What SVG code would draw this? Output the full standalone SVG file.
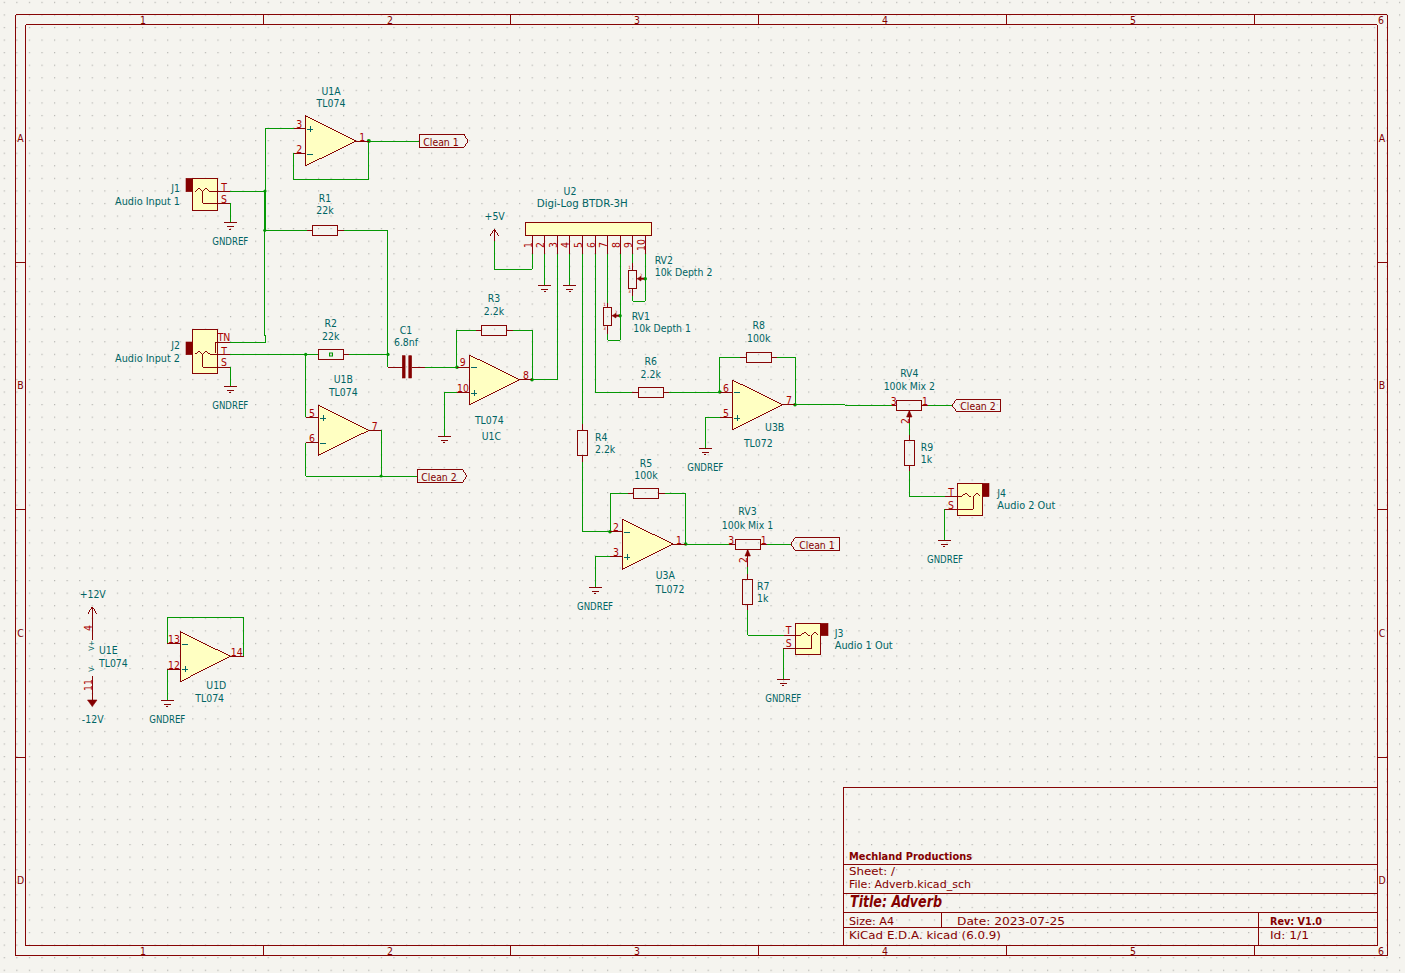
<svg xmlns="http://www.w3.org/2000/svg" width="1405" height="973" viewBox="0 0 1405 973">
<style>
text{font-family:"DejaVu Sans","Liberation Sans",sans-serif;font-size:10.4px;font-stretch:condensed;dominant-baseline:central;text-anchor:middle}
.t{fill:#006464}
.l{text-anchor:start}
.r{text-anchor:end}
.n{fill:#a90000}
.f{fill:#840000}
.b{font-weight:bold}
.tiny{font-size:4.5px}
.body,.res,.pin,.wire,.frame,.sym,.lab{fill:none;shape-rendering:crispEdges}
.body{fill:#ffffc2;stroke:#840000;stroke-width:.98}
.res{stroke:#840000;stroke-width:.98}
.pin,.lab,.frame{stroke:#840000;stroke-width:.98}
.wire{stroke:#009600;stroke-width:.98}
.sym{stroke:#006464;stroke-width:.98}
.fil{fill:#840000;stroke:#840000;stroke-width:.6}
.thk{stroke:#840000;stroke-width:2;fill:none}
.j{fill:#009600}
</style>
<defs>
<pattern id="grid" patternUnits="userSpaceOnUse" x="3.7" y="1.8" width="12.57" height="12.57"><rect width="1.2" height="1.2" fill="#b4b4b0"/></pattern>
<g id="gnd" class="pin"><path d="M-6.7 0H6.7M-3.4 4H3.4M-1 6.6H1"/></g>
<g id="plus" class="sym"><path d="M-3 0H3M0 -3V3"/></g>
<path id="minus" class="sym" d="M-3 0H3"/>
</defs>
<rect width="1405" height="973" fill="#f5f4ef"/>
<rect width="1405" height="973" fill="url(#grid)"/>

<g id="frame">
<path class="frame" d="M15.5 14.5H1387V955.5H15.5ZM25.5 24.5H1377V945.5H25.5ZM263.5 14.5V24.5M510.5 14.5V24.5M758.5 14.5V24.5M1006.5 14.5V24.5M1254.5 14.5V24.5M263.5 945.5V955.5M510.5 945.5V955.5M758.5 945.5V955.5M1006.5 945.5V955.5M1254.5 945.5V955.5M15.5 262.5H25.5M15.5 509.5H25.5M15.5 757.5H25.5M1377 262.5H1387M1377 509.5H1387M1377 757.5H1387"/>
<text class="f" x="143" y="19.5">1</text><text class="f" x="390" y="19.5">2</text><text class="f" x="637" y="19.5">3</text><text class="f" x="885" y="19.5">4</text><text class="f" x="1133" y="19.5">5</text><text class="f" x="1381" y="19.5">6</text>
<text class="f" x="143" y="950.5">1</text><text class="f" x="390" y="950.5">2</text><text class="f" x="637" y="950.5">3</text><text class="f" x="885" y="950.5">4</text><text class="f" x="1133" y="950.5">5</text><text class="f" x="1381" y="950.5">6</text>
<text class="f" x="20.5" y="138">A</text><text class="f" x="20.5" y="385">B</text><text class="f" x="20.5" y="633">C</text><text class="f" x="20.5" y="880">D</text>
<text class="f" x="1382" y="138">A</text><text class="f" x="1382" y="385">B</text><text class="f" x="1382" y="633">C</text><text class="f" x="1382" y="880">D</text>
</g>

<g id="title-block">
<path class="frame" d="M843 945.5V787H1377M843 864H1377M843 893.5H1377M843 912.5H1377M843 927.5H1377M941.5 912.5V927.5M1258.5 912.5V945.5"/>
<text class="f b l" x="849" y="856" textLength="123" lengthAdjust="spacingAndGlyphs">Mechland Productions</text>
<text class="f l" x="849" y="871" textLength="46" lengthAdjust="spacingAndGlyphs">Sheet: /</text>
<text class="f l" x="849" y="884" textLength="122" lengthAdjust="spacingAndGlyphs">File: Adverb.kicad_sch</text>
<text class="f b l" x="850" y="902" style="font-size:15px;font-style:italic" textLength="92" lengthAdjust="spacingAndGlyphs">Title: Adverb</text>
<text class="f l" x="849" y="921" textLength="45" lengthAdjust="spacingAndGlyphs">Size: A4</text>
<text class="f l" x="957" y="921" textLength="108" lengthAdjust="spacingAndGlyphs">Date: 2023-07-25</text>
<text class="f b l" x="1270" y="921" textLength="52" lengthAdjust="spacingAndGlyphs">Rev: V1.0</text>
<text class="f l" x="849" y="935" textLength="152" lengthAdjust="spacingAndGlyphs">KiCad E.D.A.  kicad (6.0.9)</text>
<text class="f l" x="1270" y="935" textLength="39" lengthAdjust="spacingAndGlyphs">Id: 1/1</text>
</g>

<g id="connectors">
<path class="wire" d="M265.7 128.3V191.3M294 128.3H265.7M230 191.3H265.7M264.7 191.3V335.5H265.7V342H230M265.2 191.3V230.3M264.7 230.3H307.3M344 230.3H387.5V367.3M230 354.3H318.3M349 354.3H388"/>
<path class="wire" d="M368.7 141H419.3M368.7 141V179.3H293.3V153.3H294"/>
<path class="wire" d="M230.3 203.3V222.7M230.3 367.3V386"/>
<path class="wire" d="M305.5 354.3V417.3H306M306 442.7H305.5V476H417.3M381.3 430.3V476"/>
<path class="wire" d="M425 367.3H457M456.3 367.3V330.3H476.3M513.3 330.3H532.3V379.7M532 379.7H557.3V254M457 392.7H444.3V436"/>
<path class="wire" d="M532.3 254V269.3H494.3V241M544.7 254V285M569.7 254V285"/>
<path class="wire" d="M582.3 254V424M582.3 462V531.3H610.3M627.7 493.3H610.3V531.3M664.7 493.3H685.3V544M685.5 544H729.3M766.7 544H790.7M595.3 556.7V587.3M610 556.7H595.3"/>
<path class="wire" d="M595.3 254V392H632.3M669.3 392H719.7V357.3H740M719.7 392H720M777 357.3H795.3V404.7M795 404.7H845V405.3H892M927.7 405.3H952M720 417.3H705.3V448.3"/>
<path class="wire" d="M607.7 254V303M620.3 254V340.3H607.7V334M632.7 254V263M632.7 296V301.3H645.3V254"/>
<path class="wire" d="M747.7 567V574.3M747.7 609.7V635.3H784M783.3 648.3V679"/>
<path class="wire" d="M909.3 423V435M909.3 470.7V496.3H945M944.3 509.3V540.3"/>
<path class="wire" d="M167.3 643.3V617.3H243.7V656.3M167.3 669V700"/>
<rect x="329.5" y="353" width="3" height="3" fill="none" stroke="#009600" stroke-width="1"/>
<g class="j"><circle cx="265" cy="191" r="1.6"/><circle cx="264.8" cy="230.3" r="1.6"/><circle cx="368.8" cy="141" r="2"/><circle cx="305.7" cy="354.4" r="1.6"/><circle cx="388" cy="354.4" r="1.6"/><circle cx="457" cy="367.2" r="1.8"/><circle cx="532" cy="379.7" r="1.8"/><circle cx="381.1" cy="476" r="1.6"/><circle cx="620" cy="315.7" r="1.8"/><circle cx="645.2" cy="278.7" r="1.8"/><circle cx="719.8" cy="392" r="1.8"/><circle cx="795" cy="404.7" r="1.8"/><circle cx="610" cy="531.7" r="1.8"/><circle cx="685.7" cy="544" r="1.8"/></g>
</g>

<g id="U1A"><path class="pin" d="M294 128.3H305.3M294 153.3H305.3M356 141H368.7"/><polygon class="body" points="305.3,115.7 305.3,166 356,141"/><use href="#plus" x="310" y="129"/><use href="#minus" x="310" y="154"/>
<text class="t" x="331" y="90.7">U1A</text><text class="t" x="331" y="103.3">TL074</text><text class="n" x="299.3" y="124">3</text><text class="n" x="299.3" y="149.3">2</text><text class="n" x="362.3" y="136.7">1</text></g>

<g id="U1B"><path class="pin" d="M306 417.3H318.3M306 442.7H318.3M369 430.3H381.3"/><polygon class="body" points="318.3,405.3 318.3,455.3 369,430.3"/><use href="#plus" x="323" y="418"/><use href="#minus" x="323" y="443"/>
<text class="t" x="343.3" y="379.3">U1B</text><text class="t" x="343.3" y="392.3">TL074</text><text class="n" x="312" y="413">5</text><text class="n" x="312" y="438.3">6</text><text class="n" x="374.7" y="425.7">7</text></g>

<g id="U1C"><path class="pin" d="M457 367.3H469.3M457 392.7H469.3M519.7 379.7H532"/><polygon class="body" points="469.3,355 469.3,405 519.7,379.7"/><use href="#minus" x="474" y="367"/><use href="#plus" x="474" y="393"/>
<text class="t" x="489.3" y="419.7">TL074</text><text class="t" x="491.3" y="436.3">U1C</text><text class="n" x="462.7" y="362.3">9</text><text class="n" x="463" y="388.3">10</text><text class="n" x="526" y="375">8</text><use href="#gnd" x="444.3" y="436"/></g>

<g id="U1D"><path class="pin" d="M167.3 643.3H180.3M167.3 669H180.3M230.3 656.3H243.7"/><polygon class="body" points="180.3,631.7 180.3,681.7 230.3,656.3"/><use href="#minus" x="185" y="644"/><use href="#plus" x="185" y="669.3"/>
<text class="t" x="216.3" y="685.3">U1D</text><text class="t" x="209.7" y="697.7">TL074</text><text class="n" x="174" y="639">13</text><text class="n" x="174" y="665">12</text><text class="n" x="236.7" y="651.7">14</text><use href="#gnd" x="167.3" y="700"/><text class="t" x="167.3" y="719" textLength="36" lengthAdjust="spacingAndGlyphs">GNDREF</text></g>

<g id="U1E"><path class="pin" d="M92.3 606.7V640M88 613.5L92.3 606.7L96.6 613.5M92.3 675.7V700"/><polygon class="fil" points="87.5,700 97,700 92.3,706.5"/>
<text class="t" x="92.7" y="594">+12V</text><text class="t" x="92.7" y="719">-12V</text><text class="n" transform="translate(88 628) rotate(-90)">4</text><text class="n" transform="translate(88 685) rotate(-90)">11</text><text class="t" style="font-size:7.5px" transform="translate(91.5 645.5) rotate(-90)">V+</text><text class="t" style="font-size:7.5px" transform="translate(91.5 668.5) rotate(-90)">V-</text>
<text class="t l" x="99" y="650">U1E</text><text class="t l" x="99" y="662.7">TL074</text></g>

<g id="U2"><path class="pin" d="M532.3 235.3V254M544.7 235.3V254M557.3 235.3V254M569.7 235.3V254M582.3 235.3V254M595.3 235.3V254M607.7 235.3V254M620.3 235.3V254M632.7 235.3V254M645.3 235.3V254"/><rect class="body" x="525" y="222.3" width="126.7" height="13"/>
<text class="t" x="570" y="191">U2</text><text class="t" x="582.3" y="203.3" textLength="91" lengthAdjust="spacingAndGlyphs">Digi-Log BTDR-3H</text>
<text class="n" transform="translate(527.7 245) rotate(-90)">1</text><text class="n" transform="translate(540 245) rotate(-90)">2</text><text class="n" transform="translate(552.7 245) rotate(-90)">3</text><text class="n" transform="translate(565 245) rotate(-90)">4</text><text class="n" transform="translate(577.7 245) rotate(-90)">5</text><text class="n" transform="translate(590.7 245) rotate(-90)">6</text><text class="n" transform="translate(603 245) rotate(-90)">7</text><text class="n" transform="translate(615.7 245) rotate(-90)">8</text><text class="n" transform="translate(628 245) rotate(-90)">9</text><text class="n" transform="translate(640.7 245) rotate(-90)">10</text>
<use href="#gnd" x="544.7" y="285"/><use href="#gnd" x="569.7" y="285"/></g>

<g id="pwr-5V"><path class="pin" d="M494.3 241V229.3M489.7 236L494.3 229.3L498.9 236"/><text class="t" x="494.7" y="216">+5V</text></g>

<g id="J1"><rect class="fil" x="186" y="178.3" width="6.3" height="13.4"/><rect class="body" x="192.3" y="178.3" width="25.4" height="32"/><path class="pin" d="M195 191.7L198.7 188.3L202.7 191.7V203.3H230M202.7 191.7L206 188.3L210 191.7H230"/>
<text class="t r" x="180" y="187.7">J1</text><text class="t r" x="180" y="200.7" textLength="65" lengthAdjust="spacingAndGlyphs">Audio Input 1</text><text class="n" x="224" y="186.7">T</text><text class="n" x="224" y="199.3">S</text><use href="#gnd" x="230.3" y="222.7"/><text class="t" x="230.3" y="241.3" textLength="36" lengthAdjust="spacingAndGlyphs">GNDREF</text></g>

<g id="J2"><rect class="fil" x="186" y="342" width="6.3" height="12.7"/><rect class="body" x="192.3" y="329.3" width="25.4" height="44"/><path class="pin" d="M195 354.3L198.7 351.3L202.7 354.3V367.3H230M202.7 354.3L206 351.3L210 354.3H230M230 342H215V353"/>
<text class="t r" x="180" y="345">J2</text><text class="t r" x="180" y="357.7" textLength="65" lengthAdjust="spacingAndGlyphs">Audio Input 2</text><text class="n" x="224" y="337.3">TN</text><text class="n" x="224" y="350.7">T</text><text class="n" x="224" y="362.3">S</text><use href="#gnd" x="230.3" y="386"/><text class="t" x="230.3" y="405" textLength="36" lengthAdjust="spacingAndGlyphs">GNDREF</text></g>

<g id="J3"><rect class="fil" x="820.3" y="623.3" width="7.7" height="12.4"/><rect class="body" x="795.3" y="623.3" width="25" height="31.4"/><path class="pin" d="M784 635.3H801L804.7 632L808 635.3H810M783.3 648.3H811.7V635.3L815 632L818.3 635.3"/>
<text class="t l" x="834.7" y="633">J3</text><text class="t l" x="834.7" y="645" textLength="58" lengthAdjust="spacingAndGlyphs">Audio 1 Out</text><text class="n" x="788.7" y="630">T</text><text class="n" x="788.7" y="643.3">S</text><use href="#gnd" x="783.3" y="679"/><text class="t" x="783.3" y="698" textLength="36" lengthAdjust="spacingAndGlyphs">GNDREF</text></g>

<g id="J4"><rect class="fil" x="982.7" y="483.3" width="6.3" height="13.4"/><rect class="body" x="957.7" y="483.3" width="25" height="32"/><path class="pin" d="M945 496.3H961.7L966 493L969.3 496.3H971M945 509.3H973.3V496.3L976.7 493L980 496.3"/>
<text class="t l" x="997.3" y="493">J4</text><text class="t l" x="997.3" y="505" textLength="58" lengthAdjust="spacingAndGlyphs">Audio 2 Out</text><text class="n" x="951" y="491.7">T</text><text class="n" x="951" y="504.7">S</text><use href="#gnd" x="944.3" y="540.3"/><text class="t" x="945" y="558.7" textLength="36" lengthAdjust="spacingAndGlyphs">GNDREF</text></g>

<g id="R1"><path class="pin" d="M307.3 230.3H312.3M337.7 230.3H344"/><rect class="res" x="312.3" y="225.3" width="25.4" height="10"/><text class="t" x="325" y="198">R1</text><text class="t" x="325" y="210.3">22k</text></g>
<g id="R2"><path class="pin" d="M343.7 354.3H349"/><rect class="res" x="318.3" y="349.3" width="25.4" height="10"/><text class="t" x="330.7" y="323.3">R2</text><text class="t" x="330.7" y="336">22k</text></g>
<g id="C1"><path class="pin" d="M387.5 367.3H403M412 367.3H425"/><rect class="fil" x="402.3" y="355.7" width="2.8" height="22.3"/><rect class="fil" x="408.8" y="355.7" width="2.8" height="22.3"/><text class="t" x="406" y="329.7">C1</text><text class="t" x="406" y="342.3">6.8nf</text></g>
<g id="R3"><path class="pin" d="M476.3 330.3H481.3M506.7 330.3H513.3"/><rect class="res" x="481.3" y="325.3" width="25.4" height="10"/><text class="t" x="494" y="298">R3</text><text class="t" x="494" y="311">2.2k</text></g>
<g id="R4"><path class="pin" d="M582.3 424V430.3M582.3 455.7V462"/><rect class="res" x="577.3" y="430.3" width="10" height="25.4"/><text class="t l" x="595" y="437">R4</text><text class="t l" x="595" y="449">2.2k</text></g>
<g id="R5"><path class="pin" d="M627.7 493.3H633.3M658.7 493.3H664.7"/><rect class="res" x="633.3" y="488.3" width="25.4" height="10"/><text class="t" x="646" y="463">R5</text><text class="t" x="646" y="475">100k</text></g>
<g id="R6"><path class="pin" d="M632.3 392H638.3M663.7 392H669.3"/><rect class="res" x="638.3" y="387.3" width="25.4" height="10"/><text class="t" x="650.7" y="360.7">R6</text><text class="t" x="650.7" y="373.7">2.2k</text></g>
<g id="R7"><path class="pin" d="M747.7 574.3V579.3M747.7 604.7V609.7"/><rect class="res" x="742.3" y="579.3" width="10" height="25.4"/><text class="t l" x="757" y="586">R7</text><text class="t l" x="757" y="598.3">1k</text></g>
<g id="R8"><path class="pin" d="M740 357.3H746.3M771.7 357.3H777"/><rect class="res" x="746.3" y="352.3" width="25.4" height="10"/><text class="t" x="758.7" y="325.3">R8</text><text class="t" x="758.7" y="337.7">100k</text></g>
<g id="R9"><path class="pin" d="M909.3 435V440.3M909.3 465.7V470.7"/><rect class="res" x="904.3" y="440.3" width="10" height="25.4"/><text class="t l" x="920.7" y="446.7">R9</text><text class="t l" x="920.7" y="459.3">1k</text></g>

<g id="RV1"><path class="pin" d="M607.7 303V307.3M607.7 325.7V334"/><rect class="res" x="603.3" y="307.3" width="8.4" height="18.4"/><polygon class="fil" points="612,315.7 616,313.5 616,318"/><path class="thk" d="M615 315.7H619"/><text class="n tiny" x="604.5" y="304.5">1</text><text class="n tiny" x="604.5" y="328">3</text><text class="n tiny" x="616" y="312">2</text><text class="t l" x="631.7" y="315.7">RV1</text><text class="t l" x="633.3" y="327.7">10k Depth 1</text></g>
<g id="RV2"><path class="pin" d="M632.7 263V270M632.7 288.7V296"/><rect class="res" x="628.3" y="270" width="8.4" height="18.7"/><polygon class="fil" points="637,278.7 641,276.5 641,281"/><path class="thk" d="M640 278.7H644"/><text class="n tiny" x="629.5" y="267.5">1</text><text class="n tiny" x="629.5" y="291">3</text><text class="n tiny" x="641" y="275">2</text><text class="t l" x="654.7" y="260">RV2</text><text class="t l" x="654.7" y="272">10k Depth 2</text></g>
<g id="RV3"><path class="pin" d="M729.3 544H735.3M760.7 544H766.7M747.7 550V567"/><rect class="res" x="735.3" y="539" width="25.4" height="10.3"/><polygon class="fil" points="747.7,549.5 745,556 750.4,556"/><text class="t" x="747.5" y="511.3">RV3</text><text class="t" x="747.5" y="524.7">100k Mix 1</text><text class="n" x="731.3" y="540">3</text><text class="n" x="763.7" y="540">1</text><text class="n" transform="translate(742.7 560) rotate(-90)">2</text></g>
<g id="RV4"><path class="pin" d="M892 405.3H896.3M921.7 405.3H927.7M909.3 411V423"/><rect class="res" x="896.3" y="400.3" width="25.4" height="10"/><polygon class="fil" points="909.3,410.5 906.6,417 912,417"/><text class="t" x="909.3" y="373.3">RV4</text><text class="t" x="909.3" y="386">100k Mix 2</text><text class="n" x="893.7" y="400.7">3</text><text class="n" x="925" y="400.7">1</text><text class="n" transform="translate(905 421) rotate(-90)">2</text></g>

<g id="U3A"><path class="pin" d="M610.3 531.3H622.3M610 556.7H622.3M673 544H685.5"/><polygon class="body" points="622.3,519.3 622.3,569.3 673,544"/><use href="#minus" x="627" y="532"/><use href="#plus" x="627" y="557"/>
<text class="t" x="665.3" y="574.7">U3A</text><text class="t" x="670" y="588.7">TL072</text><text class="n" x="616" y="527.3">2</text><text class="n" x="616" y="552.3">3</text><text class="n" x="679" y="539.7">1</text><use href="#gnd" x="595.3" y="587.3"/><text class="t" x="595" y="606" textLength="36" lengthAdjust="spacingAndGlyphs">GNDREF</text></g>

<g id="U3B"><path class="pin" d="M719.7 392H732.3M720 417.3H732.3M782.7 404.7H795"/><polygon class="body" points="732.3,380 732.3,430 782.7,404.7"/><use href="#minus" x="737" y="392"/><use href="#plus" x="737" y="418"/>
<text class="t" x="774.7" y="427.3">U3B</text><text class="t" x="758.3" y="442.7">TL072</text><text class="n" x="726" y="387.7">6</text><text class="n" x="726" y="413">5</text><text class="n" x="789" y="400">7</text><use href="#gnd" x="705.3" y="448.3"/><text class="t" x="705.3" y="466.7" textLength="36" lengthAdjust="spacingAndGlyphs">GNDREF</text></g>

<g id="label-clean1a"><path class="lab" d="M419.3 134.3H464L468 141L464 147.3H419.3Z"/><text class="f" x="441" y="141.5">Clean 1</text></g>
<g id="label-clean2a"><path class="lab" d="M417.3 469.7H462.5L466.7 476L462.5 482.7H417.3Z"/><text class="f" x="439" y="476.5">Clean 2</text></g>
<g id="label-clean2b"><path class="lab" d="M952 405.3L956.7 399H1000.3V411.7H956.7Z"/><text class="f" x="978" y="405.5">Clean 2</text></g>
<g id="label-clean1b"><path class="lab" d="M790.7 544L795.3 537.3H839.3V550.7H795.3Z"/><text class="f" x="817" y="544.5">Clean 1</text></g>
</svg>
